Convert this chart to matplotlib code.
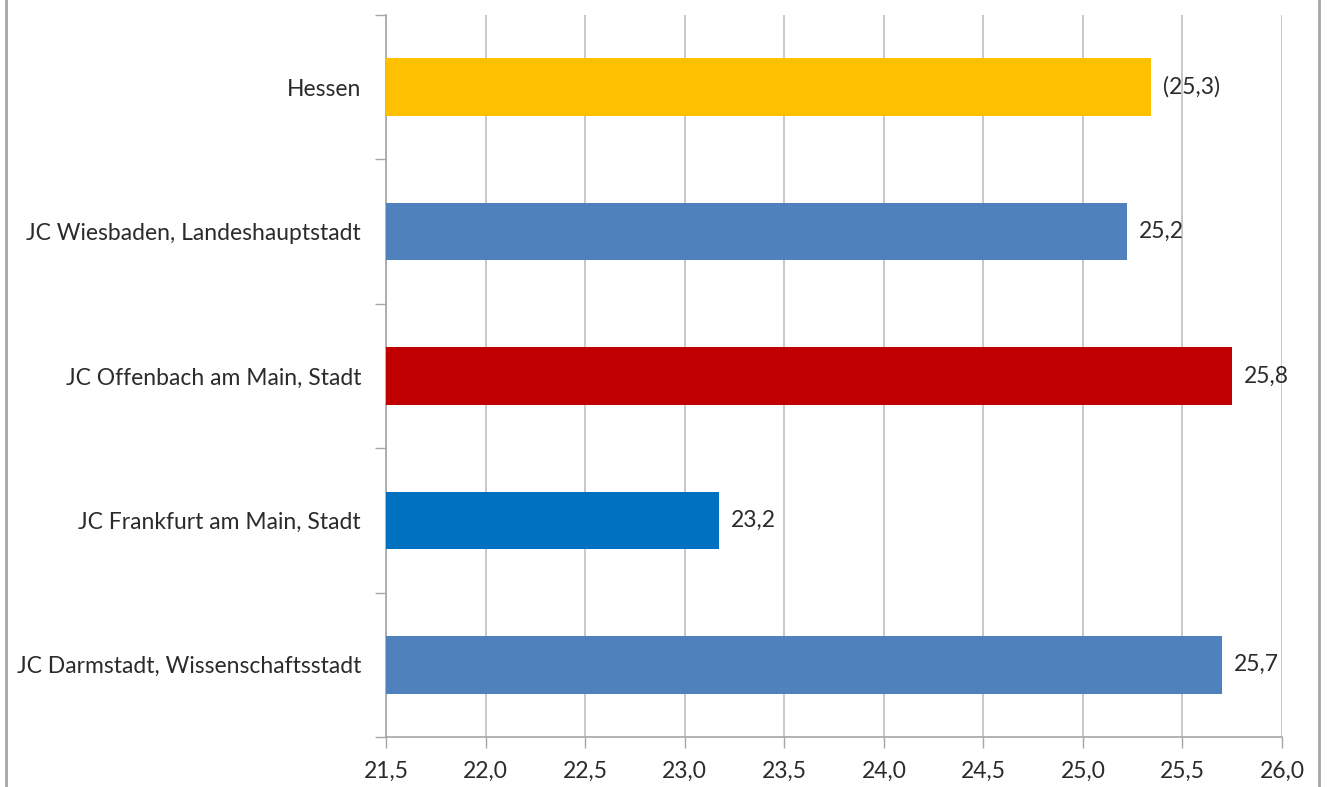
import matplotlib
matplotlib.use("Agg")
import matplotlib.pyplot as plt
from matplotlib.lines import Line2D
import numpy as np

# data, top to bottom as in the chart
categories = [
    "Hessen",
    "JC Wiesbaden, Landeshauptstadt",
    "JC Offenbach am Main, Stadt",
    "JC Frankfurt am Main, Stadt",
    "JC Darmstadt, Wissenschaftsstadt",
]
values = [25.34, 25.22, 25.75, 23.17, 25.70]
value_labels = ["(25,3)", "25,2", "25,8", "23,2", "25,7"]
bar_colors = ["#FFC000", "#4F81BD", "#C00000", "#0070C0", "#4F81BD"]
x_ticks = [21.5, 22.0, 22.5, 23.0, 23.5, 24.0, 24.5, 25.0, 25.5, 26.0]

plt.rcParams["font.family"] = ["Lato", "DejaVu Sans"]
FS = 16.5
TXT = "#2b2b2b"

fig = plt.figure(figsize=(13.28, 7.87), dpi=100)
ax = fig.add_axes([0.2907, 0.0635, 0.6747, 0.9175])

n = len(categories)
ypos = np.arange(n)
x0 = x_ticks[0]
ax.barh(ypos, np.array(values) - x0, left=x0, height=0.4, color=bar_colors, zorder=3)

for y, v, lab in zip(ypos, values, value_labels):
    ax.text(v + 0.06, y, lab, va="center", ha="left", fontsize=FS, color=TXT)

ax.set_xlim(x_ticks[0], x_ticks[-1])
ax.set_ylim(n - 0.5, -0.5)
ax.set_xticks(x_ticks)
ax.set_xticklabels([f"{t:.1f}".replace(".", ",") for t in x_ticks], fontsize=FS, color=TXT)
ax.set_yticks(ypos)
ax.set_yticklabels(categories, fontsize=FS, color=TXT)
ax.set_yticks(np.arange(n + 1) - 0.5, minor=True)

ax.tick_params(axis="y", which="major", length=0, pad=18)
ax.tick_params(axis="y", which="minor", length=8, color="#A6A6A6", width=1)
ax.tick_params(axis="x", which="major", length=8, color="#A6A6A6", width=1, pad=9)

ax.grid(True, axis="x", color="#BFBFBF", linewidth=1.2, zorder=0)
for side in ["top", "right"]:
    ax.spines[side].set_visible(False)
for side in ["left", "bottom"]:
    ax.spines[side].set_color("#A6A6A6")
    ax.spines[side].set_linewidth(1.2)

# outer frame lines of the original screenshot
fig.add_artist(Line2D([6 / 1328, 6 / 1328], [0, 1], color="#A6A6A6", linewidth=2))
fig.add_artist(Line2D([1319 / 1328, 1319 / 1328], [0, 1], color="#A6A6A6", linewidth=2))

fig.savefig("out.png", dpi=100)
